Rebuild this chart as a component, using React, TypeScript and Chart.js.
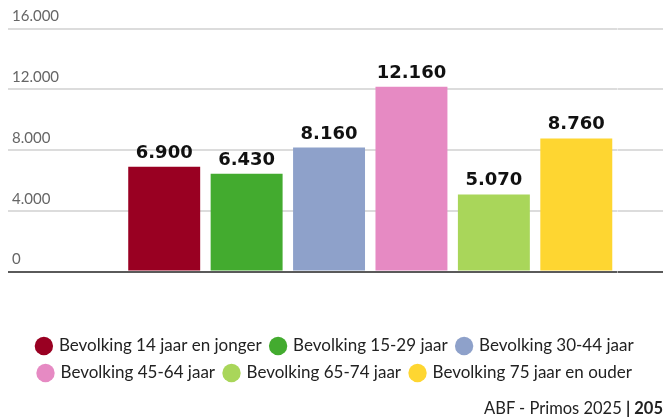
import React, { useEffect, useRef } from 'react';
import { Chart, registerables } from 'chart.js';

Chart.register(...registerables);

const categories = [
  'Bevolking 14 jaar en jonger',
  'Bevolking 15-29 jaar',
  'Bevolking 30-44 jaar',
  'Bevolking 45-64 jaar',
  'Bevolking 65-74 jaar',
  'Bevolking 75 jaar en ouder',
];
const values = [6900, 6430, 8160, 12160, 5070, 8760];
const colors = ['#990022', '#43ab2f', '#8ea1ca', '#e68ac3', '#a9d65a', '#fed631'];
const yTicks = [0, 4000, 8000, 12000, 16000];
const footerText = 'ABF - Primos 2025 ';
const footerPage = '| 205';

function fmt(v: number): string {
  return String(Math.round(v)).replace(/\B(?=(\d{3})+(?!\d))/g, '.');
}

const gridColor = (c: any) => (c.tick && c.tick.value === 0 ? '#5a5a5a' : '#dcdcdc');

const valueLabels = {
  id: 'valueLabels',
  afterDatasetsDraw(chart: any) {
    const { ctx } = chart;
    const meta = chart.getDatasetMeta(0);
    ctx.save();
    ctx.font = 'bold 18px "DejaVu Sans"';
    ctx.fillStyle = '#111';
    ctx.textAlign = 'center';
    ctx.textBaseline = 'alphabetic';
    meta.data.forEach((el: any, i: number) => {
      ctx.fillText(fmt(values[i]), el.x, el.y - 9);
    });
    ctx.restore();
  },
};

export default function App() {
  const ref = useRef<HTMLCanvasElement | null>(null);

  useEffect(() => {
    if (!ref.current) return;
    const chart = new Chart(ref.current, {
      type: 'bar',
      data: {
        labels: categories,
        datasets: [
          {
            data: values,
            backgroundColor: colors,
            borderWidth: 0,
            categoryPercentage: 1,
            barPercentage: 0.873,
          },
        ],
      },
      options: {
        responsive: false,
        animation: false,
        devicePixelRatio: 1,
        layout: { padding: { top: 20.5, bottom: 26.5, left: 0, right: 0 } },
        scales: {
          x: {
            display: true,
            grid: { display: false, drawTicks: true, tickLength: 56 },
            ticks: { display: false },
            border: { display: false },
          },
          y: {
            position: 'left',
            min: 0,
            max: 16000,
            afterBuildTicks: (s: any) => {
              s.ticks = yTicks.map((v) => ({ value: v }));
            },
            grid: { color: gridColor, lineWidth: 2, tickLength: 337 },
            border: { display: false },
            ticks: {
              mirror: true,
              padding: -111,
              labelOffset: -12,
              color: '#666',
              font: { family: 'Lato', size: 15 },
              callback: (v: any) => fmt(Number(v)),
            },
          },
          y2: {
            position: 'right',
            min: 0,
            max: 16000,
            afterBuildTicks: (s: any) => {
              s.ticks = yTicks.map((v) => ({ value: v }));
            },
            grid: { drawOnChartArea: false, color: gridColor, lineWidth: 2, tickLength: 45.5 },
            border: { display: false },
            ticks: { display: true, mirror: true, padding: 0, color: 'rgba(0,0,0,0)', callback: () => '' },
          },
        },
        plugins: {
          tooltip: { enabled: false },
          legend: {
            position: 'bottom',
            labels: {
              usePointStyle: true,
              pointStyle: 'circle',
              boxWidth: 13,
              boxHeight: 13,
              padding: 10,
              color: '#222',
              font: { family: 'Lato', size: 17 },
              generateLabels: () =>
                categories.map((c, i) => ({
                  text: c,
                  fillStyle: colors[i],
                  strokeStyle: colors[i],
                  lineWidth: 0,
                  pointStyle: 'circle',
                  hidden: false,
                  index: i,
                  fontColor: '#222',
                })),
            },
          },
        },
      },
      plugins: [valueLabels],
    } as any);
    return () => chart.destroy();
  }, []);

  return (
    <div style={{ position: 'fixed', left: 0, top: 0, width: 663, height: 418, background: '#fff', overflow: 'hidden' }}>
      <canvas ref={ref} width={655} height={410} style={{ position: 'absolute', left: 8, top: 8 }} />
      <div
        style={{
          position: 'absolute',
          right: 0,
          top: 400,
          fontFamily: 'Lato',
          fontSize: 16.5,
          lineHeight: '16px',
          color: '#222',
          whiteSpace: 'pre',
        }}
      >
        {footerText}
        <b>{footerPage}</b>
      </div>
    </div>
  );
}
